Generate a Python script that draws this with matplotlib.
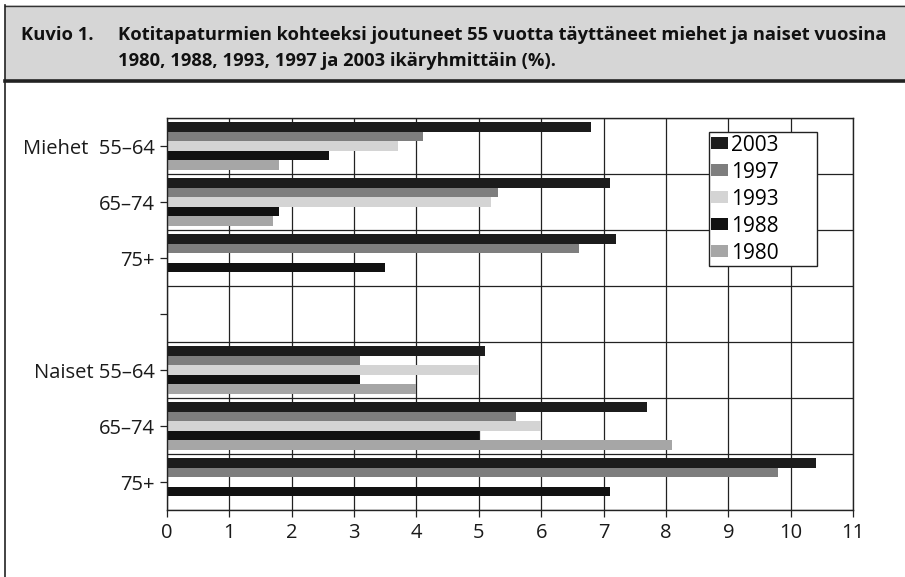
import numpy as np
import matplotlib
matplotlib.use("Agg")
import matplotlib.pyplot as plt
from matplotlib.patches import Rectangle, Patch
from matplotlib.lines import Line2D

# Share (%) of people aged 55+ injured in home accidents, by survey year
categories = ["Miehet  55–64", "65–74", "75+", "", "Naiset 55–64", "65–74", "75+"]
years = ["2003", "1997", "1993", "1988", "1980"]
nan = np.nan
v2003 = [6.8, 7.1, 7.2, nan, 5.1, 7.7, 10.4]
v1997 = [4.1, 5.3, 6.6, nan, 3.1, 5.6, 9.8]
v1993 = [3.7, 5.2, nan, nan, 5.0, 6.0, nan]
v1988 = [2.6, 1.8, 3.5, nan, 3.1, 5.0, 7.1]
v1980 = [1.8, 1.7, nan, nan, 4.0, 8.1, nan]
series = [v2003, v1997, v1993, v1988, v1980]
colors = ["#1c1c1c", "#7e7e7e", "#d4d4d4", "#111111", "#a6a6a6"]

title_lines = [
    "Kotitapaturmien kohteeksi joutuneet 55 vuotta täyttäneet miehet ja naiset vuosina",
    "1980, 1988, 1993, 1997 ja 2003 ikäryhmittäin (%).",
]

plt.rcParams["font.family"] = ["Open Sans", "DejaVu Sans"]

W, H = 905, 577
fig = plt.figure(figsize=(W / 100, H / 100), dpi=100)


def fx(px):
    return px / W


def fy(py):
    return 1 - py / H


# heading band
fig.patches.append(Rectangle((fx(5), fy(82)), fx(900), 77 / H, transform=fig.transFigure,
                             facecolor="#d6d6d6", edgecolor="none", zorder=0))
fig.add_artist(Line2D([fx(5), 1], [fy(5.5), fy(5.5)], color="#333333", lw=1.0))
fig.add_artist(Line2D([fx(5), 1], [fy(81), fy(81)], color="#222222", lw=2.6))
fig.add_artist(Line2D([fx(5), fx(5)], [0, fy(5)], color="#222222", lw=1.2))

title_kw = dict(fontsize=13.2, fontweight="bold", va="baseline", color="#111111")
fig.text(fx(21), fy(39.5), "Kuvio 1.", **title_kw)
fig.text(fx(118), fy(39.5), title_lines[0], **title_kw)
fig.text(fx(118), fy(65.5), title_lines[1], **title_kw)

ax = fig.add_axes([fx(167), fy(510), fx(686), 392 / H])

pos = np.arange(len(categories))
bar_h = 0.168
for k, (vals, col, yr) in enumerate(zip(series, colors, years)):
    ax.barh(pos + (k - 2) * bar_h, vals, height=bar_h, color=col, linewidth=0, zorder=2, label=yr)

ax.set_xlim(0, 11)
ax.set_ylim(len(categories) - 0.5, -0.5)
ax.set_xticks(range(0, 12))
ax.set_yticks(pos)
ax.set_yticklabels(categories)
ax.set_yticks(np.arange(-0.5, len(categories)), minor=True)

ax.grid(axis="x", which="major", color="#222222", lw=0.9, zorder=0)
ax.grid(axis="y", which="minor", color="#222222", lw=0.9, zorder=0)
ax.set_axisbelow(True)
ax.tick_params(axis="y", which="minor", length=0)
ax.tick_params(axis="both", which="major", length=5, width=0.9, color="#222222",
               labelsize=14.5, labelcolor="#1a1a1a", pad=4)
for sp in ax.spines.values():
    sp.set_color("#222222")
    sp.set_linewidth(1.0)

# legend box is wider than its entries, so stretch it over a fixed span
handles = [Patch(facecolor=c, edgecolor="none") for c in colors]
leg = ax.legend(handles, years, loc="upper left", bbox_to_anchor=(0.790, 0.964, 0.157, 0.0),
                mode="expand", fontsize=15, frameon=True, fancybox=False, framealpha=1,
                edgecolor="#222222", handlelength=0.8, handleheight=0.5,
                handletextpad=0.15, labelspacing=0.29, borderpad=0.12, borderaxespad=0)
leg.get_frame().set_linewidth(1.0)

fig.savefig("out.png", dpi=100)
